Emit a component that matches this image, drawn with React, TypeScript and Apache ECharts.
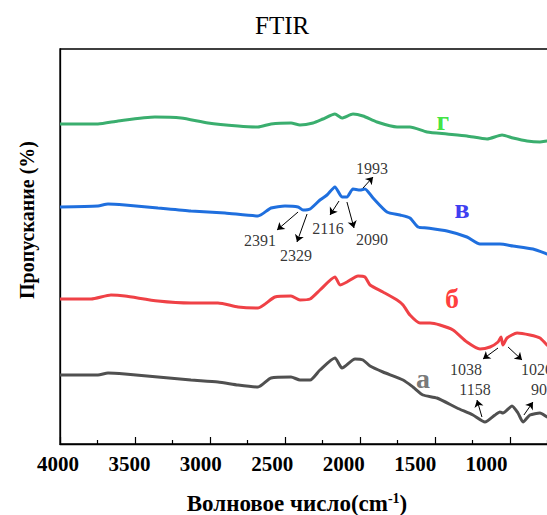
import React, { useEffect, useRef } from "react";
import * as echarts from "echarts";

const FONT = "'Times New Roman', 'Liberation Serif', serif";

// wavenumbers (cm-1) and transmittance (arbitrary, stacked) per curve
const waveG = [4000, 3747, 3613, 3367, 3193, 3013, 2813, 2680, 2593, 2460, 2400, 2313, 2247, 2167, 2120, 2047, 1980, 1887, 1753, 1667, 1553, 1420, 1287, 1153, 1053, 980, 887, 800, 753, 700];
const transG = [320, 320, 323, 327, 326, 321, 318, 317, 320, 321, 319, 321, 325, 330, 326, 330, 328, 322, 317, 317, 312, 310, 308, 305, 309, 306, 303, 302, 303, 304];

const waveV = [4000, 3747, 3680, 3567, 3347, 3127, 2900, 2680, 2593, 2500, 2413, 2380, 2333, 2267, 2220, 2167, 2120, 2087, 2047, 2000, 1967, 1913, 1820, 1733, 1667, 1613, 1553, 1420, 1287, 1200, 1067, 980, 847, 753, 700];
const transV = [237, 238, 240, 239, 236, 233, 231, 228, 236, 238, 237, 234, 235, 244, 249, 257, 247, 247, 255, 254, 255, 246, 232, 229, 226, 217, 216, 213, 207, 200, 200, 198, 195, 190, 187];

const waveB = [4000, 3793, 3660, 3567, 3347, 3127, 2947, 2813, 2680, 2567, 2460, 2400, 2333, 2267, 2167, 2133, 2087, 2013, 1967, 1933, 1847, 1753, 1713, 1667, 1600, 1533, 1467, 1380, 1287, 1200, 1133, 1080, 1060, 1047, 1020, 953, 867, 800, 753, 700];
const transB = [145, 145, 149, 148, 143, 141, 141, 137, 136, 147, 148, 144, 145, 154, 167, 159, 162, 168, 167, 159, 152, 144, 139, 129, 121, 121, 119, 114, 102, 95, 97, 102, 107, 99, 106, 111, 109, 106, 99, 94];

const waveA = [4000, 3747, 3680, 3567, 3347, 3127, 2947, 2813, 2680, 2593, 2460, 2400, 2333, 2267, 2167, 2120, 2033, 1980, 1933, 1847, 1713, 1647, 1580, 1487, 1353, 1247, 1167, 1100, 1067, 1047, 987, 947, 913, 867, 800, 753, 700];
const transA = [69, 69, 71, 70, 67, 64, 62, 59, 57, 66, 67, 64, 64, 74, 86, 76, 85, 84, 78, 72, 64, 57, 49, 46, 36, 29, 22, 29, 32, 31, 38, 31, 22, 29, 31, 27, 24];

const tickLabels = [4000, 3500, 3000, 2500, 2000, 1500, 1000];

// peak annotations: label, label position, arrow start, arrow end
const peakNames = ["2391", "2329", "2116", "2090", "1993", "1038", "1020", "1158", "908"];
const peakLabelPos = [[2667, 204], [2427, 189], [2213, 216], [1920, 205], [1920, 276], [1293, 75], [820, 75], [1233, 55], [780, 55]];
const arrowFrom = [[2413, 232], [2353, 230], [2140, 243], [2087, 242], [1980, 256], [1080, 96], [1013, 97], [1187, 27], [907, 29]];
const arrowTo = [[2553, 214], [2420, 202], [2200, 229], [2040, 216], [1913, 267], [1180, 85], [920, 84], [1220, 44], [847, 42]];

// curve letters
const curveNames = ["г", "в", "б", "а"];
const curveNamePos = [[1447, 324], [1320, 236], [1387, 146], [1580, 66]];
const curveNameColors = ["#11dd11", "#0a0aee", "#ff0a0a", "#555555"];

const lineColors = ["#3aae6e", "#1f6fde", "#ef4146", "#505050"];

function zip(w: number[], t: number[]) {
  return w.map((x, i) => [x, t[i]]);
}

export default function App() {
  const ref = useRef<HTMLDivElement>(null);
  useEffect(() => {
    document.body.style.margin = "0";
    const chart = echarts.init(ref.current!, undefined, { renderer: "svg" });
    const curves = [
      zip(waveG, transG),
      zip(waveV, transV),
      zip(waveB, transB),
      zip(waveA, transA),
    ];
    const option: any = {
      animation: false,
      backgroundColor: "#fff",
      title: {
        text: "FTIR",
        left: 250,
        top: 8,
        textStyle: { fontFamily: FONT, fontSize: 25, fontWeight: "normal", color: "#000" },
      },
      grid: [
        { left: 60, right: 0, top: 49, bottom: 71, show: true, borderColor: "#000", borderWidth: 1.3 },
        { left: 58, right: 27, top: 49, bottom: 71, show: false },
      ],
      xAxis: [
        {
          type: "value",
          gridIndex: 0,
          inverse: true,
          min: 500,
          max: 4000,
          interval: 500,
          axisLine: { show: true, lineStyle: { color: "#000", width: 1.3 } },
          axisTick: { show: true, inside: true, length: 7, lineStyle: { color: "#000", width: 1.2 } },
          minorTick: { show: true, splitNumber: 2, length: 4, lineStyle: { color: "#000", width: 1.2 } },
          axisLabel: { show: false },
          splitLine: { show: false },
        },
        {
          type: "value",
          gridIndex: 1,
          inverse: true,
          min: 500,
          max: 4000,
          interval: 500,
          axisLine: { show: false },
          axisTick: { show: false },
          axisLabel: {
            show: true,
            margin: 9,
            fontFamily: FONT,
            fontSize: 21,
            fontWeight: "bold",
            color: "#000",
            formatter: (v: number) => (tickLabels.includes(v) ? String(v) : ""),
          },
          splitLine: { show: false },
        },
      ],
      yAxis: [
        {
          type: "value",
          gridIndex: 0,
          min: 0,
          max: 395,
          axisLine: { show: true, lineStyle: { color: "#000", width: 1.3 } },
          axisTick: { show: false },
          axisLabel: { show: false },
          splitLine: { show: false },
        },
        { type: "value", gridIndex: 1, min: 0, max: 395, show: false },
      ],
      series: [
        ...curves.map((d, i) => ({
          type: "line",
          xAxisIndex: 0,
          yAxisIndex: 0,
          data: d,
          showSymbol: false,
          symbol: "none",
          smooth: 0.2,
          lineStyle: { color: lineColors[i], width: 3 },
          z: 2,
        })),
        {
          type: "lines",
          coordinateSystem: "cartesian2d",
          xAxisIndex: 0,
          yAxisIndex: 0,
          symbol: ["none", "arrow"],
          symbolSize: 7,
          lineStyle: { color: "#000", width: 1, opacity: 1 },
          data: arrowFrom.map((f, i) => ({ coords: [f, arrowTo[i]] })),
          z: 3,
        },
        {
          type: "scatter",
          xAxisIndex: 0,
          yAxisIndex: 0,
          symbolSize: 0,
          data: peakLabelPos.map((p, i) => [p[0], p[1], peakNames[i]]),
          label: {
            show: true,
            position: "inside",
            formatter: (p: any) => p.data[2],
            fontFamily: FONT,
            fontSize: 16,
            color: "#000",
          },
          z: 4,
        },
        {
          type: "scatter",
          xAxisIndex: 0,
          yAxisIndex: 0,
          symbolSize: 0,
          data: curveNamePos.map((p, i) => ({
            value: [p[0], p[1]],
            label: { color: curveNameColors[i] },
            name: curveNames[i],
          })),
          label: {
            show: true,
            position: "inside",
            formatter: (p: any) => p.name,
            fontFamily: FONT,
            fontSize: 28,
            fontWeight: "bold",
          },
          z: 4,
        },
      ],
      graphic: [
        {
          type: "text",
          x: 27,
          y: 220,
          rotation: Math.PI / 2,
          style: {
            text: "Пропускание (%)",
            fontFamily: FONT,
            fontSize: 20,
            fontWeight: "bold",
            fill: "#000",
            align: "center",
            verticalAlign: "middle",
          },
        },
        {
          type: "text",
          x: 297,
          y: 503,
          style: {
            text: "Волновое число(cm{sup|-1})",
            fontFamily: FONT,
            fontSize: 23,
            fontWeight: "bold",
            fill: "#000",
            align: "center",
            verticalAlign: "middle",
            rich: {
              sup: { fontFamily: FONT, fontSize: 14, fontWeight: "bold", verticalAlign: "top", padding: [0, 0, 9, 0] },
            },
          },
        },
      ],
    };
    chart.setOption(option);
    return () => chart.dispose();
  }, []);
  return (
    <div style={{ width: 547, height: 515, overflow: "hidden", position: "relative" }}>
      <div ref={ref} style={{ width: 585, height: 515 }} />
    </div>
  );
}
